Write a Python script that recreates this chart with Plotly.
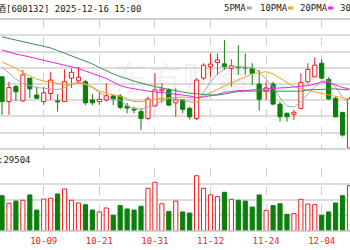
import plotly.graph_objects as go

W, H = 350, 250

dates = ["09-23", "09-24", "09-25", "09-26", "09-29", "09-30", "10-09", "10-10", "10-13", "10-14",
         "10-15", "10-16", "10-17", "10-20", "10-21", "10-22", "10-23", "10-24", "10-27", "10-28",
         "10-29", "10-30", "10-31", "11-03", "11-04", "11-05", "11-06", "11-07", "11-10", "11-11",
         "11-12", "11-13", "11-14", "11-17", "11-18", "11-19", "11-20", "11-21", "11-24", "11-25",
         "11-26", "11-27", "11-28", "12-01", "12-02", "12-03", "12-04", "12-05", "12-08", "12-09",
         "12-10"]
tick_dates = ["10-09", "10-21", "10-31", "11-12", "11-24", "12-04"]

open_ = [54.22, 53.46, 53.92, 53.48, 54.18, 53.66, 53.46, 53.71, 53.48, 53.46,
         54.18, 54.10, 54.07, 53.51, 53.46, 53.51, 53.63, 53.63, 53.32, 53.23,
         53.15, 52.94, 53.32, 53.79, 53.82, 53.42, 53.51, 53.25, 52.94, 54.18,
         54.53, 54.66, 54.62, 54.48, 54.53, 54.51, 54.48, 54.00, 53.79, 54.00,
         53.38, 53.10, 53.07, 53.25, 54.07, 54.22, 54.64, 54.14, 53.56, 53.12,
         52.03]
high = [54.25, 54.07, 53.97, 54.43, 54.18, 53.92, 53.92, 54.38, 53.69, 54.45,
        54.48, 54.53, 54.12, 53.69, 53.72, 54.02, 53.69, 53.69, 53.42, 53.30,
        53.25, 53.61, 54.33, 54.03, 53.87, 53.87, 53.53, 53.30, 54.18, 54.64,
        54.94, 54.94, 55.35, 54.76, 55.20, 54.94, 54.64, 54.43, 54.07, 54.07,
        53.46, 53.12, 53.20, 54.33, 54.64, 54.82, 54.76, 54.21, 53.61, 53.15,
        53.60]
low = [53.05, 53.05, 53.48, 53.45, 53.57, 53.55, 53.35, 53.51, 53.15, 53.45,
       53.88, 54.02, 53.35, 53.35, 53.35, 53.46, 53.35, 53.22, 53.10, 53.10,
       52.58, 52.89, 53.30, 53.42, 53.32, 52.99, 53.10, 52.91, 52.89, 54.12,
       54.22, 54.28, 54.43, 53.92, 54.28, 54.28, 53.97, 53.18, 53.51, 53.35,
       52.84, 52.84, 52.89, 53.22, 54.02, 54.21, 54.14, 53.51, 52.98, 52.38,
       52.00]
close = [53.46, 53.89, 53.76, 54.28, 53.85, 53.56, 53.73, 54.12, 53.45, 54.07,
         54.36, 54.21, 53.42, 53.42, 53.53, 53.64, 53.54, 53.28, 53.26, 53.20,
         52.94, 53.54, 53.82, 53.84, 53.35, 53.51, 53.22, 52.99, 54.12, 54.58,
         54.61, 54.74, 54.53, 54.56, 54.50, 54.49, 54.33, 53.53, 53.88, 53.38,
         52.99, 52.99, 53.13, 54.05, 54.45, 54.58, 54.18, 53.54, 52.99, 52.43,
         53.54]
volume = [22400, 17600, 19000, 19500, 22900, 13300, 20300, 20800, 23500, 26700,
          19500, 17800, 16700, 13300, 12100, 14600, 10000, 16100, 14000, 13300,
          15700, 27100, 30900, 17300, 12300, 19000, 12100, 11400, 35100, 27100,
          22900, 21800, 24600, 20100, 19500, 19000, 15200, 22900, 13100, 16100,
          17300, 10600, 11000, 20100, 17100, 16700, 10000, 12100, 17800, 22400,
          28800]
ma5 = [54.52, 54.34, 54.15, 54.02, 53.95, 53.89, 53.87, 53.86, 53.83, 53.88,
       54.00, 54.06, 54.02, 53.88, 53.74, 53.60, 53.52, 53.51, 53.32, 53.25,
       53.23, 53.29, 53.35, 53.48, 53.55, 53.54, 53.51, 53.45, 53.42, 53.75,
       54.06, 54.31, 54.46, 54.53, 54.53, 54.52, 54.49, 54.37, 54.15, 53.91,
       53.57, 53.32, 53.29, 53.45, 53.69, 53.91, 54.09, 54.09, 53.91, 53.60,
       53.38]
ma10 = [54.68, 54.58, 54.48, 54.35, 54.25, 54.15, 54.09, 54.05, 54.00, 53.98,
        54.00, 54.02, 53.98, 53.91, 53.78, 53.71, 53.66, 53.62, 53.54, 53.46,
        53.45, 53.51, 53.54, 53.56, 53.57, 53.58, 53.60, 53.58, 53.57, 53.63,
        53.72, 53.83, 53.94, 54.03, 54.14, 54.23, 54.31, 54.35, 54.38, 54.31,
        54.18, 54.05, 53.92, 53.85, 53.80, 53.76, 53.72, 53.66, 53.62, 53.58,
        53.54]
ma20 = [55.05, 54.98, 54.92, 54.88, 54.83, 54.78, 54.74, 54.69, 54.65, 54.60,
        54.54, 54.48, 54.40, 54.32, 54.25, 54.17, 54.06, 53.95, 53.89, 53.85,
        53.82, 53.78, 53.76, 53.74, 53.71, 53.68, 53.66, 53.63, 53.58, 53.60,
        53.63, 53.68, 53.74, 53.78, 53.80, 53.80, 53.82, 53.83, 53.85, 53.86,
        53.88, 53.89, 53.91, 53.92, 53.95, 54.00, 54.06, 54.05, 53.97, 53.89,
        53.85]
ma30 = [55.45, 55.40, 55.35, 55.31, 55.26, 55.22, 55.17, 55.11, 55.03, 54.95,
        54.88, 54.80, 54.71, 54.62, 54.51, 54.40, 54.31, 54.23, 54.15, 54.09,
        54.03, 53.97, 53.92, 53.88, 53.83, 53.78, 53.75, 53.72, 53.69, 53.68,
        53.66, 53.66, 53.69, 53.74, 53.77, 53.78, 53.78, 53.78, 53.78, 53.77,
        53.76, 53.76, 53.77, 53.78, 53.82, 53.83, 53.85, 53.86, 53.85, 53.83,
        53.82]

title_text = "重庆啤酒[600132] 2025-12-16 15:00"
vol_label = "成交量:29504"
ma_names = ["5PMA", "10PMA", "20PMA", "30PMA"]
watermark = "东方财富"

RED = "#f21c1c"
GREEN = "#0a800a"
MA_COLORS = ["#a8a8a8", "#f5a31a", "#f020f0", "#3d8c5c"]
FONT = "DejaVu Sans Mono, Liberation Mono, Noto Sans CJK SC, monospace"

n = len(dates)
x = list(range(n))
up = [c >= o for o, c in zip(open_, close)]

fig = go.Figure()

# wicks (split around the body so hollow bodies stay clean)
for flag, col in ((True, RED), (False, GREEN)):
    wx, wy = [], []
    for i in range(n):
        if up[i] != flag:
            continue
        top = max(open_[i], close[i])
        bot = min(open_[i], close[i])
        wx += [i, i, None, i, i, None]
        wy += [high[i], top, None, bot, low[i], None]
    fig.add_trace(go.Scatter(x=wx, y=wy, mode="lines", line=dict(color=col, width=1),
                             hoverinfo="skip", showlegend=False, xaxis="x", yaxis="y"))

# bodies
for flag, col, fill in ((True, RED, "white"), (False, GREEN, GREEN)):
    idx = [i for i in range(n) if up[i] == flag]
    fig.add_trace(go.Bar(
        x=idx,
        base=[min(open_[i], close[i]) for i in idx],
        y=[max(abs(close[i] - open_[i]), 0.012) for i in idx],
        width=0.6, marker=dict(color=fill, line=dict(color=col, width=1)),
        showlegend=False, hoverinfo="skip", xaxis="x", yaxis="y"))

# moving averages
for vals, col in zip([ma5, ma10, ma20, ma30], MA_COLORS):
    fig.add_trace(go.Scatter(x=x, y=vals, mode="lines", line=dict(color=col, width=1),
                             showlegend=False, hoverinfo="skip", xaxis="x", yaxis="y"))

# volume
for flag, col, fill in ((True, RED, "white"), (False, GREEN, GREEN)):
    idx = [i for i in range(n) if up[i] == flag]
    fig.add_trace(go.Bar(
        x=idx, y=[volume[i] for i in idx], width=0.6,
        marker=dict(color=fill, line=dict(color=col, width=1)),
        showlegend=False, hoverinfo="skip", xaxis="x2", yaxis="y2"))

def px(v):
    return v / W

def py(v):
    return 1 - v / H

tickvals = [dates.index(d) for d in tick_dates]
xr = [-0.29, 50.07]
grid_h = "#dcdcdc"
grid_v = "#cfcfcf"

fig.update_layout(
    width=W, height=H, margin=dict(l=0, r=0, t=0, b=0),
    paper_bgcolor="white", plot_bgcolor="white",
    barmode="overlay", showlegend=False,
    font=dict(family=FONT, size=9, color="#333333"),
    xaxis=dict(domain=[0, 1], range=xr, tickvals=tickvals, showticklabels=False,
               showgrid=True, gridcolor=grid_v, griddash="dash", gridwidth=1,
               zeroline=False, showline=False, anchor="y"),
    yaxis=dict(domain=[py(149), py(19)], range=[51.999, 56.001], dtick=0.5, tick0=52,
               showticklabels=False, showgrid=True, gridcolor=grid_h, gridwidth=1.5,
               zeroline=False, anchor="x"),
    xaxis2=dict(domain=[0, 1], range=xr, tickvals=tickvals, ticktext=tick_dates,
                tickfont=dict(color=RED, size=9, family=FONT), ticks="",
                ticklabelstandoff=3,
                showgrid=True, gridcolor=grid_v, griddash="dash", gridwidth=1,
                zeroline=False, showline=False, anchor="y2"),
    yaxis2=dict(domain=[py(231), py(168)], range=[0, 40000], dtick=10000,
                showticklabels=False, showgrid=True, gridcolor=grid_h, gridwidth=1.5,
                zeroline=False, anchor="x2"),
)

shapes = [
    dict(type="line", xref="paper", yref="paper", x0=0, x1=1, y0=py(19), y1=py(19),
         line=dict(color="#a0a0a0", width=1)),
    dict(type="line", xref="paper", yref="paper", x0=0, x1=1, y0=py(149), y1=py(149),
         line=dict(color="#c8c8c8", width=1.5)),
    dict(type="line", xref="paper", yref="paper", x0=0, x1=1, y0=py(231), y1=py(231),
         line=dict(color="#c8c8c8", width=1.5)),
]
annotations = [
    dict(text=title_text, xref="paper", yref="paper", x=px(143), y=py(8),
         xanchor="right", yanchor="middle", showarrow=False,
         font=dict(family=FONT, size=9, color="#222222")),
    dict(text=vol_label, xref="paper", yref="paper", x=px(32.5), y=py(159),
         xanchor="right", yanchor="middle", showarrow=False,
         font=dict(family=FONT, size=9, color="#222222")),
    dict(text=watermark, xref="paper", yref="paper", x=px(182), y=py(76),
         xanchor="center", yanchor="middle", showarrow=False,
         font=dict(family="Noto Sans CJK SC", size=34, color="rgba(170,170,170,0.16)")),
]
# legend header
leg_x = [222, 258, 298, 338]
for name, col, lx in zip(ma_names, MA_COLORS, leg_x):
    annotations.append(dict(text=name, xref="paper", yref="paper", x=px(lx), y=py(8),
                            xanchor="left", yanchor="middle", showarrow=False,
                            font=dict(family=FONT, size=9, color="#222222")))
    mx = lx + len(name) * 5.42 + 3
    shapes.append(dict(type="rect", xref="paper", yref="paper", x0=px(mx), x1=px(mx + 5),
                       y0=py(9.5), y1=py(6.5), fillcolor=col, line=dict(width=0)))

fig.update_layout(shapes=shapes, annotations=annotations)

fig.write_html("out.html")
